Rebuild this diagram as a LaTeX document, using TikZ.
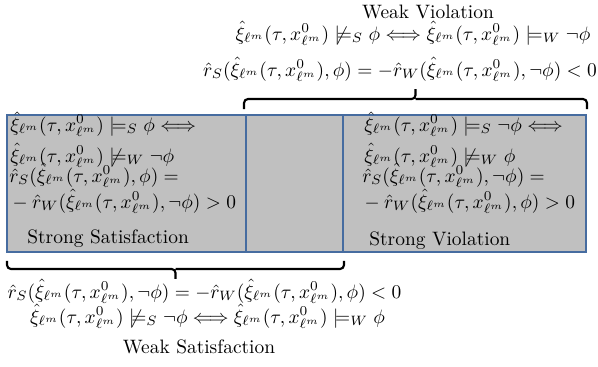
\documentclass[tikz,border=0pt]{standalone}
\usepackage{amssymb}
\usetikzlibrary{positioning, fit, calc}
\definecolor{cellblue}{RGB}{70,108,160}
\definecolor{cellgray}{RGB}{192,192,192}
\newcommand{\xil}{\hat{\xi}_{\ell^m}(\tau,x^0_{\ell^m})}
\newcommand{\nmod}{\not\models}

\begin{document}
\begin{tikzpicture}[
        x=0.515pt, y=-0.515pt,
        cell/.style={draw=cellblue, fill=cellgray, line width=1pt, inner sep=0pt},
        eq/.style={inner sep=0pt, anchor=base west},
        centred/.style={inner sep=0pt, anchor=base},
        bracket/.style={line width=1.1pt, rounded corners=2pt}
      ]
        \useasboundingbox (0,0) rectangle (598,366);
        \node[cell, fit={(7,115) (246,252)}] (sat) {};
        \node[cell, fit={(246,115) (343,252)}] (gap) {};
        \node[cell, fit={(343,115) (586,252)}] (vio) {};
        % strong satisfaction cell
        \node[eq] (sat1) at (10,131) {$\xil \models_S \phi \Longleftrightarrow$};
        \node[eq] (sat2) at (10,162) {$\xil \nmod_W \neg\phi$};
        \node[eq] (sat3) at (9,182) {$\hat{r}_S(\xil,\phi) =$};
        \node[eq] (sat4) at (8,208) {${}-\hat{r}_W(\xil,\neg\phi) > 0$};
        \node[eq] (satname) at (27,243) {Strong Satisfaction};
        % strong violation cell
        \node[eq] (vio1) at (364,131) {$\xil \models_S \neg\phi \Longleftrightarrow$};
        \node[eq] (vio2) at (364,162) {$\xil \nmod_W \phi$};
        \node[eq] (vio3) at (362,182) {$\hat{r}_S(\xil,\neg\phi) =$};
        \node[eq] (vio4) at (360,208) {${}-\hat{r}_W(\xil,\phi) > 0$};
        \node[eq] (vioname) at (369,245) {Strong Violation};
        % weak violation
        \node[centred] (wvname) at (428,18) {Weak Violation};
        \node[centred] (wv1) at (413,40) {$\xil \nmod_S \phi \Longleftrightarrow \xil \models_W \neg\phi$};
        \node[centred] (wv2) at (400,76) {$\hat{r}_S(\xil,\phi) = -\hat{r}_W(\xil,\neg\phi) < 0$};
        % weak satisfaction
        \node[centred] (ws1) at (204.5,298) {$\hat{r}_S(\xil,\neg\phi) = -\hat{r}_W(\xil,\phi) < 0$};
        \node[centred] (ws2) at (207.5,323) {$\xil \nmod_S \neg\phi \Longleftrightarrow \xil \models_W \phi$};
        \node[centred] (wsname) at (199,353) {Weak Satisfaction};
        % brackets
        \coordinate (wvl) at ($(gap.north west)+(-1,-5)$);
        \coordinate (wvr) at ($(vio.north east)+(0,-5)$);
        \coordinate (wvtip) at ($(wvl)!0.5!(wvr)+(0,-20)$);
        \draw[bracket] (wvl) |- ($(wvtip)+(0,10)$) -- (wvtip)
          ($(wvtip)+(0,10)$) -| (wvr);
        \coordinate (wsl) at ($(sat.south west)+(1,8)$);
        \coordinate (wsr) at ($(gap.south east)+(0,8)$);
        \coordinate (wstip) at ($(wsl)!0.5!(wsr)+(0,18)$);
        \draw[bracket] (wsl) |- ($(wstip)+(0,-10)$) -- (wstip)
          ($(wstip)+(0,-10)$) -| (wsr);
      \end{tikzpicture}
\end{document}
